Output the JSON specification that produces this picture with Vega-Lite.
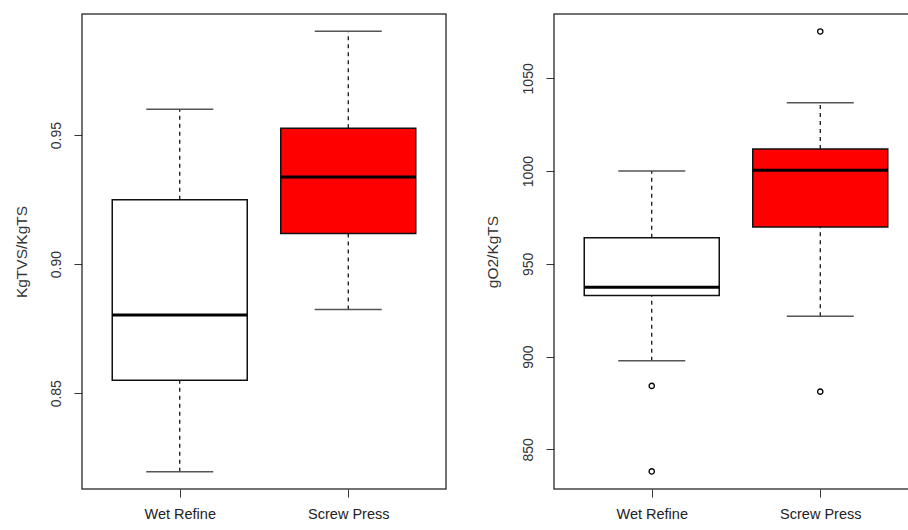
{
  "$schema": "https://vega.github.io/schema/vega-lite/v6.json",
  "padding": {"left": 13, "top": 13, "right": 0, "bottom": 0},
  "autosize": {"type": "pad"},
  "background": "white",
  "bounds": "flush",
  "spacing": 108,
  "config": {
    "view": {"stroke": "#444", "strokeWidth": 1.5},
    "tick": {"opacity": 1},
    "axis": {"labelFont": "Liberation Sans", "titleFont": "Liberation Sans", "grid": false, "domain": false, "tickColor": "#333", "labelColor": "#333", "titleColor": "#333", "titleFontWeight": "normal"}
  },
  "datasets": {
    "vs": [
      {"group": "Wet Refine", "lower": 0.8196, "q1": 0.855, "median": 0.8803, "q3": 0.9249, "upper": 0.960},
      {"group": "Screw Press", "lower": 0.8824, "q1": 0.9119, "median": 0.9338, "q3": 0.9526, "upper": 0.9902}
    ],
    "o2": [
      {"group": "Wet Refine", "lower": 897.8, "q1": 932.9, "median": 937.4, "q3": 964.1, "upper": 1000},
      {"group": "Screw Press", "lower": 921.8, "q1": 969.8, "median": 1000.4, "q3": 1011.9, "upper": 1036.9}
    ],
    "o2out": [
      {"group": "Wet Refine", "value": 884.2},
      {"group": "Wet Refine", "value": 838.1},
      {"group": "Screw Press", "value": 1075.3},
      {"group": "Screw Press", "value": 881.1}
    ]
  },
  "hconcat": [
    {
      "width": 364, "height": 475,
      "data": {"name": "vs"},
      "encoding": {
        "x": {"field": "group", "type": "nominal", "sort": ["Wet Refine", "Screw Press"],
          "scale": {"type": "point", "padding": 0.58, "domain": ["Wet Refine", "Screw Press"]},
          "axis": {"title": null, "tickSize": 8, "labelFontSize": 14.5, "labelPadding": 10, "labelAngle": 0, "labelColor": "#222"}}
      },
      "layer": [
        {"mark": {"type": "rule", "strokeDash": [4, 4], "color": "black", "strokeWidth": 1.2},
         "encoding": {"y": {"field": "lower", "type": "quantitative", "scale": {"domain": [0.8129, 0.9969], "nice": false, "zero": false},
           "axis": {"title": "KgTVS/KgTS", "values": [0.85, 0.9, 0.95], "format": ".2f", "tickSize": 8, "labelAngle": 270, "labelAlign": "center", "labelBaseline": "middle", "labelPadding": 18, "labelFontSize": 14, "titleFontSize": 15.5, "titleAngle": 270, "titleAlign": "center", "titleBaseline": "middle", "titleX": -61, "titleY": 237.5}},
           "y2": {"field": "q1"}}},
        {"mark": {"type": "rule", "strokeDash": [4, 4], "color": "black", "strokeWidth": 1.2},
         "encoding": {"y": {"field": "q3", "type": "quantitative"}, "y2": {"field": "upper"}}},
        {"mark": {"type": "tick", "size": 67, "thickness": 1.5, "color": "#555"},
         "encoding": {"y": {"field": "lower", "type": "quantitative"}}},
        {"mark": {"type": "tick", "size": 67, "thickness": 1.5, "color": "#555"},
         "encoding": {"y": {"field": "upper", "type": "quantitative"}}},
        {"mark": {"type": "bar", "size": 135, "stroke": "#111", "strokeWidth": 1.5},
         "encoding": {"y": {"field": "q1", "type": "quantitative"}, "y2": {"field": "q3"},
           "color": {"field": "group", "type": "nominal", "scale": {"domain": ["Wet Refine", "Screw Press"], "range": ["#FFFFFF", "#FF0000"]}, "legend": null}}},
        {"mark": {"type": "tick", "size": 135, "thickness": 3, "color": "black"},
         "encoding": {"y": {"field": "median", "type": "quantitative"}}}
      ]
    },
    {
      "width": 364, "height": 475,
      "data": {"name": "o2"},
      "encoding": {
        "x": {"field": "group", "type": "nominal", "sort": ["Wet Refine", "Screw Press"],
          "scale": {"type": "point", "padding": 0.58, "domain": ["Wet Refine", "Screw Press"]},
          "axis": {"title": null, "tickSize": 8, "labelFontSize": 14.5, "labelPadding": 10, "labelAngle": 0, "labelColor": "#222"}}
      },
      "layer": [
        {"mark": {"type": "rule", "strokeDash": [4, 4], "color": "black", "strokeWidth": 1.2},
         "encoding": {"y": {"field": "lower", "type": "quantitative", "scale": {"domain": [828.6, 1084.7], "nice": false, "zero": false},
           "axis": {"title": "gO2/KgTS", "values": [850, 900, 950, 1000, 1050], "format": "d", "tickSize": 8, "labelAngle": 270, "labelAlign": "center", "labelBaseline": "middle", "labelPadding": 18, "labelFontSize": 14, "titleFontSize": 15.5, "titleAngle": 270, "titleAlign": "center", "titleBaseline": "middle", "titleX": -62, "titleY": 237.5}},
           "y2": {"field": "q1"}}},
        {"mark": {"type": "rule", "strokeDash": [4, 4], "color": "black", "strokeWidth": 1.2},
         "encoding": {"y": {"field": "q3", "type": "quantitative"}, "y2": {"field": "upper"}}},
        {"mark": {"type": "tick", "size": 67, "thickness": 1.5, "color": "#555"},
         "encoding": {"y": {"field": "lower", "type": "quantitative"}}},
        {"mark": {"type": "tick", "size": 67, "thickness": 1.5, "color": "#555"},
         "encoding": {"y": {"field": "upper", "type": "quantitative"}}},
        {"mark": {"type": "bar", "size": 135, "stroke": "#111", "strokeWidth": 1.5},
         "encoding": {"y": {"field": "q1", "type": "quantitative"}, "y2": {"field": "q3"},
           "color": {"field": "group", "type": "nominal", "scale": {"domain": ["Wet Refine", "Screw Press"], "range": ["#FFFFFF", "#FF0000"]}, "legend": null}}},
        {"mark": {"type": "tick", "size": 135, "thickness": 3, "color": "black"},
         "encoding": {"y": {"field": "median", "type": "quantitative"}}},
        {"data": {"name": "o2out"},
         "mark": {"type": "point", "shape": "circle", "filled": false, "size": 28, "stroke": "black", "strokeWidth": 1.3, "opacity": 1},
         "encoding": {"y": {"field": "value", "type": "quantitative"}}}
      ]
    }
  ]
}
